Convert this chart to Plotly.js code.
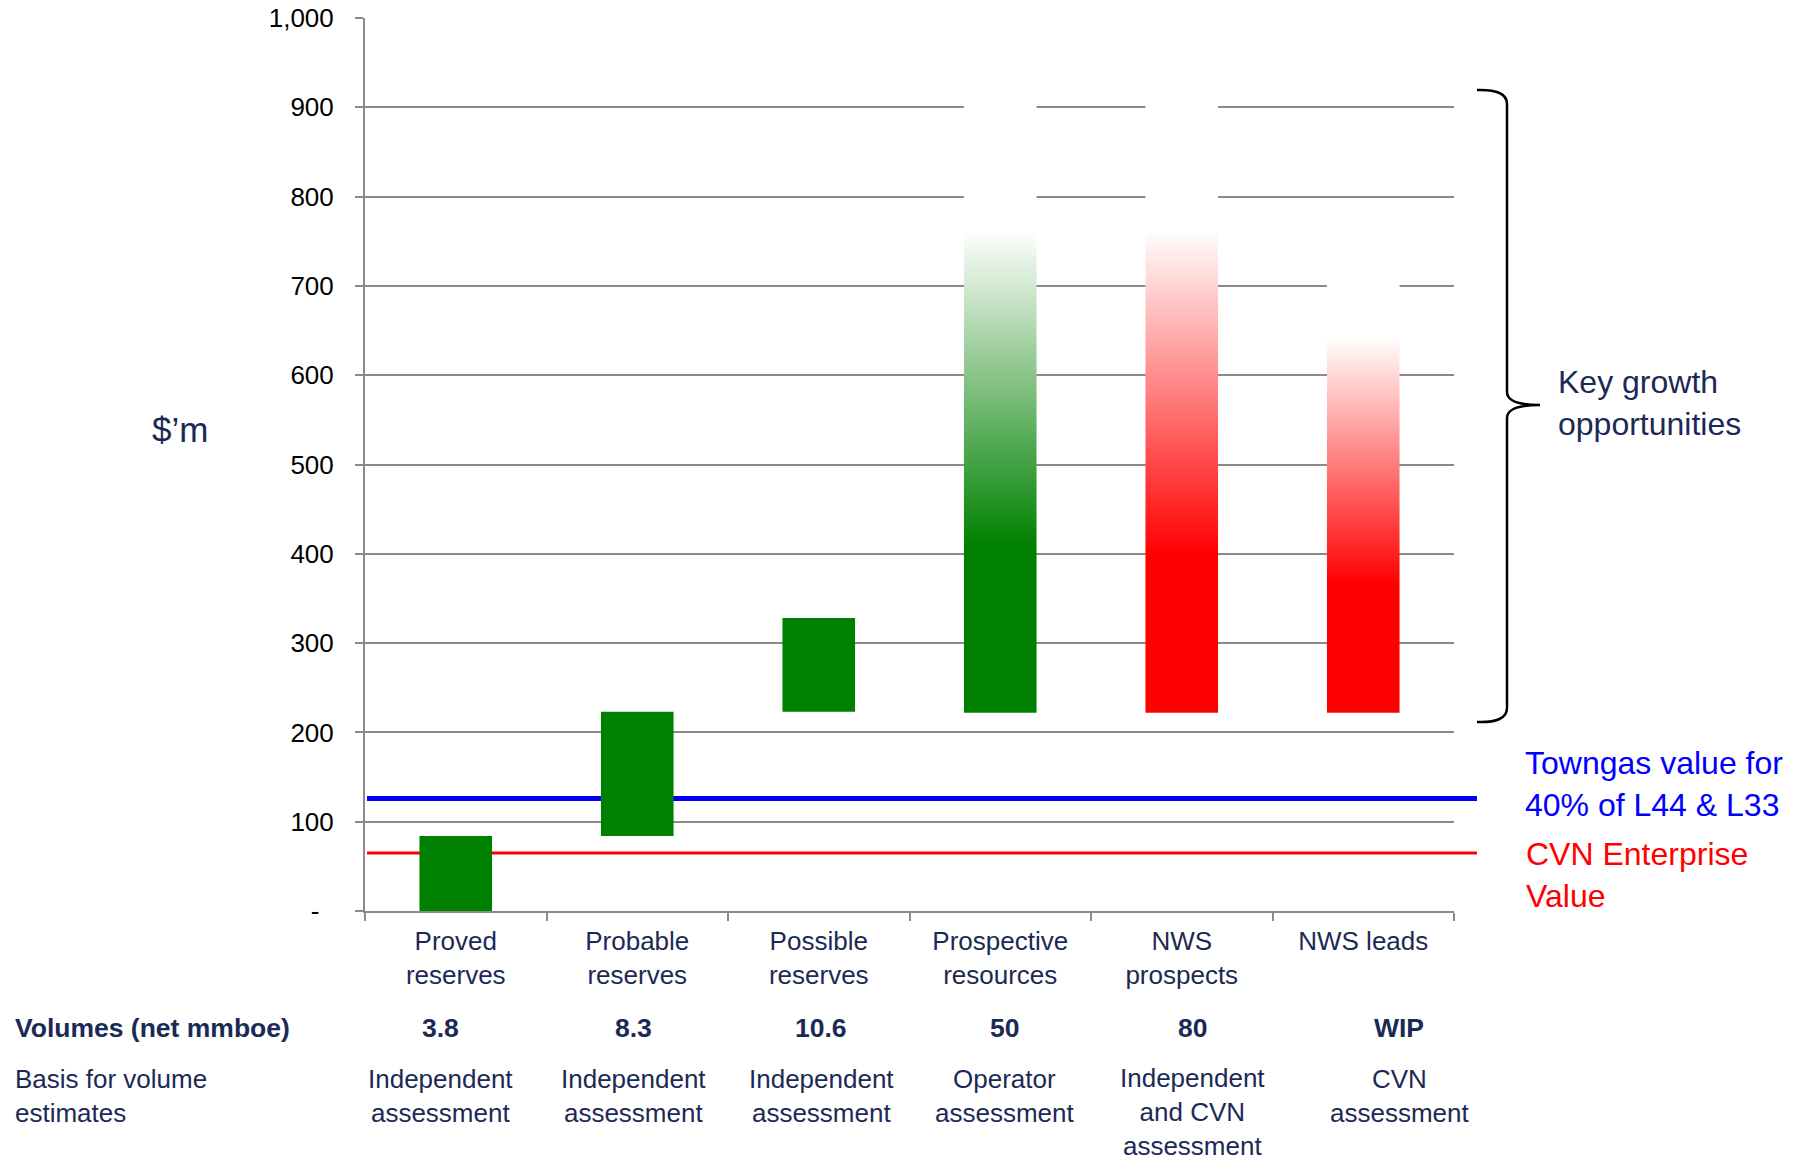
<!DOCTYPE html>
<html>
<head>
<meta charset="utf-8">
<script src="https://cdn.plot.ly/plotly-3.0.1.min.js"></script>
<style>html,body{margin:0;padding:0;background:#fff;}</style>
</head>
<body>
<div id="chart" style="width:1798px;height:1160px;"></div>
<script>
// ---------------- data ----------------
const categories = ['Proved<br>reserves', 'Probable<br>reserves', 'Possible<br>reserves',
                    'Prospective<br>resources', 'NWS<br>prospects', 'NWS leads'];
const barBase = [0, 84, 223, 222, 222, 222];
const barTop = [84, 223, 328, 920, 920, 720];
const fadeStart = [null, null, null, 408, 398, 366];
const fadeEnd = [null, null, null, 763, 763, 643];
const barColor = ['#008000', '#008000', '#008000', '#008000', '#FF0000', '#FF0000'];

const yTickVals = [0, 100, 200, 300, 400, 500, 600, 700, 800, 900, 1000];
const yTickText = ['-\u00a0\u00a0', '100', '200', '300', '400', '500', '600', '700', '800', '900', '1,000'];

const towngasValue = 126;
const cvnEnterpriseValue = 65;

const volumesLabel = 'Volumes (net mmboe)';
const volumes = ['3.8', '8.3', '10.6', '50', '80', 'WIP'];
const basisLabel = 'Basis for volume<br>estimates';
const basis = ['Independent<br>assessment', 'Independent<br>assessment', 'Independent<br>assessment',
               'Operator<br>assessment', 'Independent<br>and CVN<br>assessment', 'CVN<br>assessment'];

// ---------------- layout helpers ----------------
const W = 1798, H = 1160;
const L = 365, R = 1454, T = 18, B = 911;
const px = x => (x - L) / (R - L);
const py = y => (B - y) / (B - T);
const FONT = 'Liberation Sans, Arial, Helvetica, sans-serif';
const NAVY = '#1B2A55';
const GRID = '#8A8A8A';
const tableColX = [440, 633, 821, 1004, 1192, 1399];

const annotations = [];
function ann(text, x, y, opt) {
  annotations.push(Object.assign({
    text: text, xref: 'paper', yref: 'paper', x: px(x), y: py(y),
    showarrow: false, xanchor: 'center', yanchor: 'middle', align: 'center',
    font: {family: FONT, size: 26, color: NAVY}
  }, opt || {}));
}
ann('$\u2019m', 180, 429, {font: {family: FONT, size: 35, color: NAVY}});
ann('Key growth<br>opportunities', 1556, 403, {xanchor: 'left', align: 'left', font: {family: FONT, size: 32, color: NAVY}});
ann('Towngas value for<br>40% of L44 &amp; L33', 1523, 784, {xanchor: 'left', align: 'left', font: {family: FONT, size: 32, color: '#0000FF'}});
ann('CVN Enterprise<br>Value', 1524, 875, {xanchor: 'left', align: 'left', font: {family: FONT, size: 32, color: '#FF0000'}});
ann('<b>' + volumesLabel + '</b>', 13, 1028, {xanchor: 'left', align: 'left', font: {family: FONT, size: 26.5, color: NAVY}});
ann(basisLabel, 13, 1096, {xanchor: 'left', align: 'left'});
volumes.forEach((v, i) => ann('<b>' + v + '</b>', tableColX[i], 1028, {font: {family: FONT, size: 26.5, color: NAVY}}));
basis.forEach((b, i) => {
  const lines = b.split('<br>').length;
  ann(b, tableColX[i], 1079 + (lines - 1) * 16.5);
});

const shapes = [
  {type: 'line', xref: 'paper', yref: 'y', x0: px(367), x1: px(1477), y0: towngasValue, y1: towngasValue,
   line: {color: '#0000FF', width: 5}, layer: 'below'},
  {type: 'line', xref: 'paper', yref: 'y', x0: px(367), x1: px(1477), y0: cvnEnterpriseValue, y1: cvnEnterpriseValue,
   line: {color: '#FF0000', width: 3}, layer: 'below'},
  {type: 'path', xref: 'paper', yref: 'paper', layer: 'above',
   path: 'M ' + px(1477) + ',' + py(90) +
         ' Q ' + px(1507) + ',' + py(89) + ' ' + px(1507) + ',' + py(104) +
         ' L ' + px(1507) + ',' + py(392) +
         ' Q ' + px(1507) + ',' + py(405) + ' ' + px(1540) + ',' + py(405) +
         ' Q ' + px(1507) + ',' + py(405) + ' ' + px(1507) + ',' + py(418) +
         ' L ' + px(1507) + ',' + py(708) +
         ' Q ' + px(1507) + ',' + py(723) + ' ' + px(1477) + ',' + py(722),
   line: {color: '#000000', width: 2.5}}
];

const data = [{
  type: 'bar',
  x: categories,
  y: barTop.map((t, i) => t - barBase[i]),
  base: barBase,
  width: 0.4,
  marker: {color: barColor, line: {width: 0}},
  hoverinfo: 'none'
}];

const layout = {
  width: W, height: H,
  margin: {l: L, r: W - R, t: T, b: H - B, pad: 0},
  paper_bgcolor: '#FFFFFF', plot_bgcolor: '#FFFFFF',
  showlegend: false,
  font: {family: FONT, size: 26, color: '#000'},
  xaxis: {
    type: 'category', showline: true, linecolor: GRID, linewidth: 2,
    ticks: 'outside', tickson: 'boundaries', ticklen: 8, tickwidth: 2, tickcolor: GRID,
    showgrid: false, zeroline: false, ticklabelstandoff: 6,
    tickfont: {family: FONT, size: 26, color: NAVY}, fixedrange: true
  },
  yaxis: {
    range: [0, 1000], tickmode: 'array', tickvals: yTickVals, ticktext: yTickText,
    showgrid: true, gridcolor: GRID, gridwidth: 2, zeroline: false,
    showline: true, linecolor: GRID, linewidth: 2,
    ticks: 'outside', ticklen: 8, tickwidth: 2, tickcolor: GRID,
    ticklabelstandoff: 16,
    tickfont: {family: FONT, size: 26, color: '#000'}, fixedrange: true
  },
  shapes: shapes,
  annotations: annotations
};

const gd = document.getElementById('chart');
Plotly.newPlot(gd, data, layout, {displayModeBar: false, staticPlot: true}).then(() => {
  const svg = gd.querySelector('svg.main-svg');
  const NS = 'http://www.w3.org/2000/svg';
  let defs = svg.querySelector('defs');
  if (!defs) { defs = document.createElementNS(NS, 'defs'); svg.insertBefore(defs, svg.firstChild); }
  const paths = gd.querySelectorAll('.barlayer .trace .point path');
  paths.forEach((p, i) => {
    if (fadeStart[i] == null) return;
    const span = barTop[i] - barBase[i];
    const f1 = (fadeStart[i] - barBase[i]) / span;
    const f2 = (fadeEnd[i] - barBase[i]) / span;
    const g = document.createElementNS(NS, 'linearGradient');
    g.setAttribute('id', 'barGrad' + i);
    g.setAttribute('x1', '0'); g.setAttribute('y1', '1');
    g.setAttribute('x2', '0'); g.setAttribute('y2', '0');
    [[0, barColor[i]], [f1, barColor[i]], [f2, '#FFFFFF'], [1, '#FFFFFF']].forEach(s => {
      const st = document.createElementNS(NS, 'stop');
      st.setAttribute('offset', s[0]);
      st.setAttribute('stop-color', s[1]);
      g.appendChild(st);
    });
    defs.appendChild(g);
    p.style.fill = 'url(#barGrad' + i + ')';
  });
});
</script>
</body>
</html>
